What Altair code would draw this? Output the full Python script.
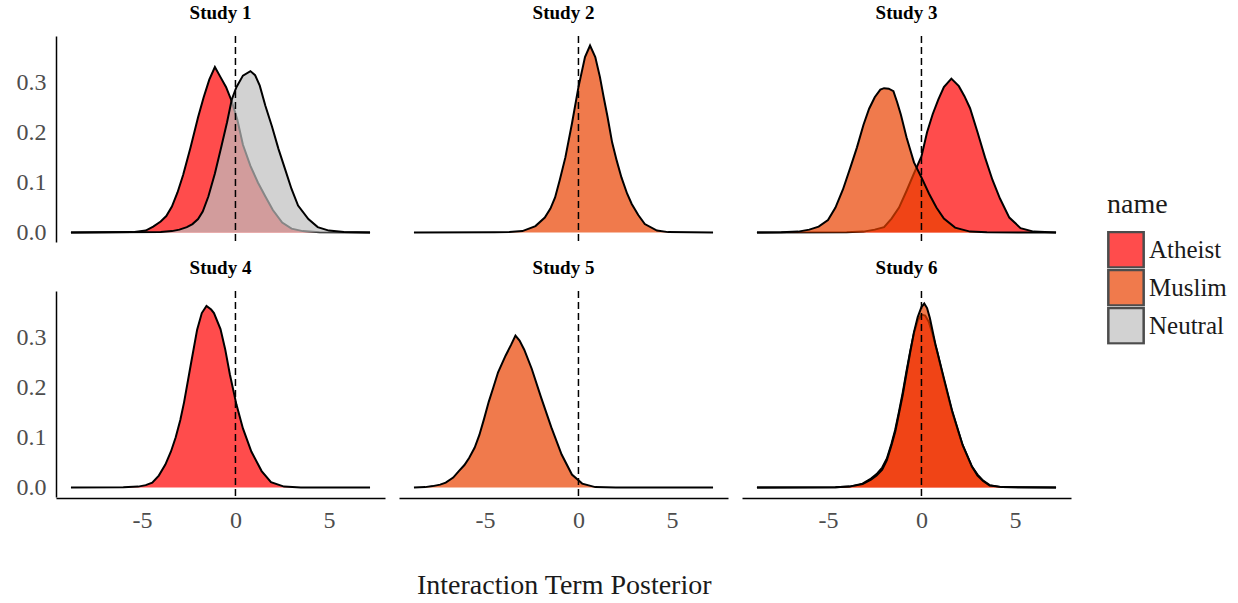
import altair as alt
import pandas as pd

NAMES = ["Atheist", "Muslim", "Neutral"]
FILL = ["#FF0000", "#EA4200", "#BFBFBF"]          # drawn at 0.7 opacity

# ---- density curves (x, density) ----
s1_ath_x = [-8.8, -5.5, -4.8, -4.4, -4.0, -3.7, -3.4, -3.1, -2.8, -2.4, -2.0, -1.7, -1.4, -1.1, -0.8, -0.5, -0.2, 0.1, 0.4, 0.8, 1.2, 1.6, 2.0, 2.5, 3.0, 3.6, 4.5, 7.2]
s1_ath_y = [0, 0.001, 0.004, 0.012, 0.022, 0.033, 0.052, 0.08, 0.115, 0.17, 0.23, 0.27, 0.305, 0.33, 0.31, 0.29, 0.262, 0.225, 0.175, 0.133, 0.1, 0.072, 0.045, 0.02, 0.008, 0.003, 0.0005, 0]

s1_neu_x = [-8.8, -4.0, -3.4, -3.0, -2.6, -2.3, -2.0, -1.75, -1.45, -1.1, -0.75, -0.45, -0.2, 0.05, 0.4, 0.8, 1.05, 1.3, 1.6, 1.95, 2.3, 2.65, 3.0, 3.35, 3.9, 4.4, 5.0, 5.8, 7.2]
s1_neu_y = [0, 0.001, 0.003, 0.006, 0.011, 0.017, 0.027, 0.042, 0.072, 0.118, 0.172, 0.22, 0.265, 0.29, 0.313, 0.322, 0.314, 0.293, 0.253, 0.212, 0.167, 0.127, 0.087, 0.054, 0.027, 0.011, 0.004, 0.001, 0]

s2_mus_x = [-8.8, -4.5, -3.7, -3.0, -2.3, -1.8, -1.5, -1.25, -1.0, -0.7, -0.35, 0.0, 0.35, 0.62, 0.9, 1.15, 1.35, 1.55, 1.8, 2.05, 2.3, 2.6, 2.85, 3.2, 3.55, 4.2, 4.8, 7.2]
s2_mus_y = [0, 0.0005, 0.001, 0.003, 0.013, 0.03, 0.048, 0.07, 0.105, 0.15, 0.217, 0.29, 0.35, 0.373, 0.35, 0.31, 0.27, 0.232, 0.18, 0.143, 0.11, 0.078, 0.057, 0.035, 0.017, 0.004, 0.001, 0]

s3_mus_x = [-8.8, -7.5, -6.6, -6.0, -5.5, -5.0, -4.6, -4.2, -3.8, -3.45, -3.1, -2.8, -2.5, -2.2, -2.0, -1.75, -1.5, -1.3, -1.1, -0.8, -0.4, 0.0, 0.4, 0.8, 1.2, 1.8, 2.6, 3.5, 7.2]
s3_mus_y = [0, 0.0005, 0.002, 0.006, 0.012, 0.025, 0.05, 0.086, 0.13, 0.17, 0.215, 0.247, 0.27, 0.285, 0.288, 0.287, 0.282, 0.26, 0.235, 0.19, 0.14, 0.11, 0.078, 0.05, 0.028, 0.01, 0.002, 0.0005, 0]

s3_ath_x = [-8.8, -4.0, -3.1, -2.5, -2.0, -1.6, -1.2, -0.8, -0.4, 0.0, 0.3, 0.6, 0.9, 1.2, 1.6, 2.0, 2.3, 2.6, 3.0, 3.4, 3.8, 4.2, 4.7, 5.3, 6.0, 7.2]
s3_ath_y = [0, 0.0005, 0.002, 0.006, 0.011, 0.028, 0.05, 0.083, 0.118, 0.152, 0.2, 0.236, 0.265, 0.29, 0.307, 0.292, 0.272, 0.248, 0.2, 0.15, 0.105, 0.068, 0.03, 0.009, 0.002, 0]

s4_ath_x = [-8.8, -6.0, -5.2, -4.8, -4.45, -4.1, -3.75, -3.45, -3.2, -2.95, -2.75, -2.4, -2.05, -1.8, -1.55, -1.3, -1.15, -0.8, -0.55, -0.3, 0.05, 0.4, 0.85, 1.4, 1.9, 2.6, 3.5, 7.2]
s4_ath_y = [0, 0.0005, 0.002, 0.005, 0.01, 0.024, 0.046, 0.072, 0.1, 0.135, 0.17, 0.243, 0.315, 0.348, 0.362, 0.355, 0.348, 0.316, 0.276, 0.226, 0.166, 0.118, 0.072, 0.033, 0.011, 0.002, 0.0003, 0]

s5_mus_x = [-8.8, -8.2, -7.8, -7.4, -7.1, -6.7, -6.4, -6.1, -5.85, -5.55, -5.3, -5.05, -4.8, -4.55, -4.3, -3.9, -3.6, -3.37, -3.15, -2.9, -2.5, -2.0, -1.45, -0.9, -0.35, 0.2, 0.9, 2.0, 7.2]
s5_mus_y = [0, 0.001, 0.003, 0.006, 0.01, 0.02, 0.033, 0.045, 0.059, 0.08, 0.105, 0.137, 0.171, 0.2, 0.23, 0.263, 0.285, 0.303, 0.293, 0.275, 0.237, 0.18, 0.12, 0.066, 0.026, 0.008, 0.001, 0.0002, 0]

s6_ath_x = [-8.8, -4.6, -3.85, -3.15, -2.7, -2.4, -2.1, -1.85, -1.6, -1.4, -1.2, -1.0, -0.8, -0.6, -0.4, -0.2, 0.0, 0.2, 0.4, 0.6, 0.85, 1.2, 1.65, 2.2, 2.7, 3.0, 3.3, 3.65, 4.3, 7.2]
s6_ath_y = [0, 0.0005, 0.002, 0.008, 0.018, 0.027, 0.04, 0.058, 0.088, 0.116, 0.152, 0.19, 0.232, 0.272, 0.308, 0.333, 0.345, 0.343, 0.33, 0.305, 0.27, 0.215, 0.15, 0.085, 0.042, 0.026, 0.014, 0.005, 0.001, 0]

s6_mus_x = [-8.8, -4.6, -3.85, -3.15, -2.7, -2.4, -2.1, -1.85, -1.6, -1.4, -1.2, -1.0, -0.8, -0.6, -0.4, -0.2, 0.0, 0.15, 0.3, 0.45, 0.75, 1.2, 1.65, 2.2, 2.7, 3.0, 3.3, 3.65, 4.3, 7.2]
s6_mus_y = [0, 0.0005, 0.002, 0.007, 0.016, 0.024, 0.036, 0.055, 0.085, 0.112, 0.148, 0.185, 0.228, 0.27, 0.31, 0.34, 0.36, 0.367, 0.358, 0.338, 0.285, 0.218, 0.152, 0.085, 0.042, 0.024, 0.013, 0.004, 0.001, 0]

curves = [
    ("Study 1", "Atheist", s1_ath_x, s1_ath_y),
    ("Study 1", "Neutral", s1_neu_x, s1_neu_y),
    ("Study 2", "Muslim", s2_mus_x, s2_mus_y),
    ("Study 3", "Atheist", s3_ath_x, s3_ath_y),
    ("Study 3", "Muslim", s3_mus_x, s3_mus_y),
    ("Study 4", "Atheist", s4_ath_x, s4_ath_y),
    ("Study 5", "Muslim", s5_mus_x, s5_mus_y),
    ("Study 6", "Atheist", s6_ath_x, s6_ath_y),
    ("Study 6", "Muslim", s6_mus_x, s6_mus_y),
]

rows = []
for study, name, xs, ys in curves:
    for x, y in zip(xs, ys):
        rows.append({"study": study, "name": name, "x": x, "y": y})
df = pd.DataFrame(rows)
df["first"] = ~df.duplicated("study")

FONT = "Liberation Serif"

x_enc = alt.X("x:Q", scale=alt.Scale(domain=[-9.6, 8.0], nice=False, zero=False),
              axis=alt.Axis(values=[-5, 0, 5], title=None,
                            labelExpr="datum.value < 0 ? '-' + abs(datum.value) : '' + datum.value"))
y_enc = alt.Y("y:Q", scale=alt.Scale(domain=[-0.0187, 0.392], nice=False, zero=False),
              axis=alt.Axis(values=[0, 0.1, 0.2, 0.3], format=".1f", title=None))

legend = alt.Legend(title="name", orient="none", legendX=1051, legendY=155,
                    symbolType="square", symbolSize=1250,
                    symbolStrokeColor="black", symbolStrokeWidth=2.5,
                    labelFont=FONT, labelFontSize=25, labelColor="#1a1a1a",
                    titleFont=FONT, titleFontSize=28, titleFontWeight="normal",
                    titleColor="#1a1a1a", titlePadding=12, rowPadding=0,
                    clipHeight=37.5, labelOffset=4)

base = alt.Chart(df)

layers = []
for nm in NAMES:
    sub = base.transform_filter(alt.datum.name == nm)
    layers.append(
        sub.mark_area(opacity=0.7, orient="vertical").encode(
            x=x_enc, y=y_enc, y2=alt.datum(0),
            color=alt.Color("name:N", scale=alt.Scale(domain=NAMES, range=FILL), legend=legend),
        )
    )
    layers.append(
        sub.mark_line(color="black", strokeWidth=2).encode(x=x_enc, y=y_enc)
    )

rule = base.transform_filter(alt.datum.first).mark_rule(
    color="black", strokeDash=[7, 4], strokeWidth=1.5
).encode(x=alt.datum(0))

layered = alt.layer(*layers, rule).properties(width=329, height=206)

chart = layered.facet(
    facet=alt.Facet("study:N", title=None,
                    header=alt.Header(labelFont=FONT, labelFontSize=19, labelFontWeight="bold",
                                      labelColor="black", labelPadding=12)),
    columns=3,
    spacing={"row": 16, "column": 14},
).properties(
    title=alt.TitleParams("Interaction Term Posterior", orient="bottom", anchor="start",
                          font=FONT, fontSize=28, fontWeight="normal", color="#1a1a1a",
                          offset=40, dx=401),
    padding={"left": 16, "top": 4, "right": 5, "bottom": 5},
).configure_view(strokeWidth=0).configure_axis(
    grid=False, ticks=False, domainColor="black", domainWidth=1.5,
    labelFont=FONT, labelFontSize=24, labelColor="#4D4D4D", labelPadding=10,
)

chart.save("out.html", embed_options={"renderer": "svg", "actions": False})
